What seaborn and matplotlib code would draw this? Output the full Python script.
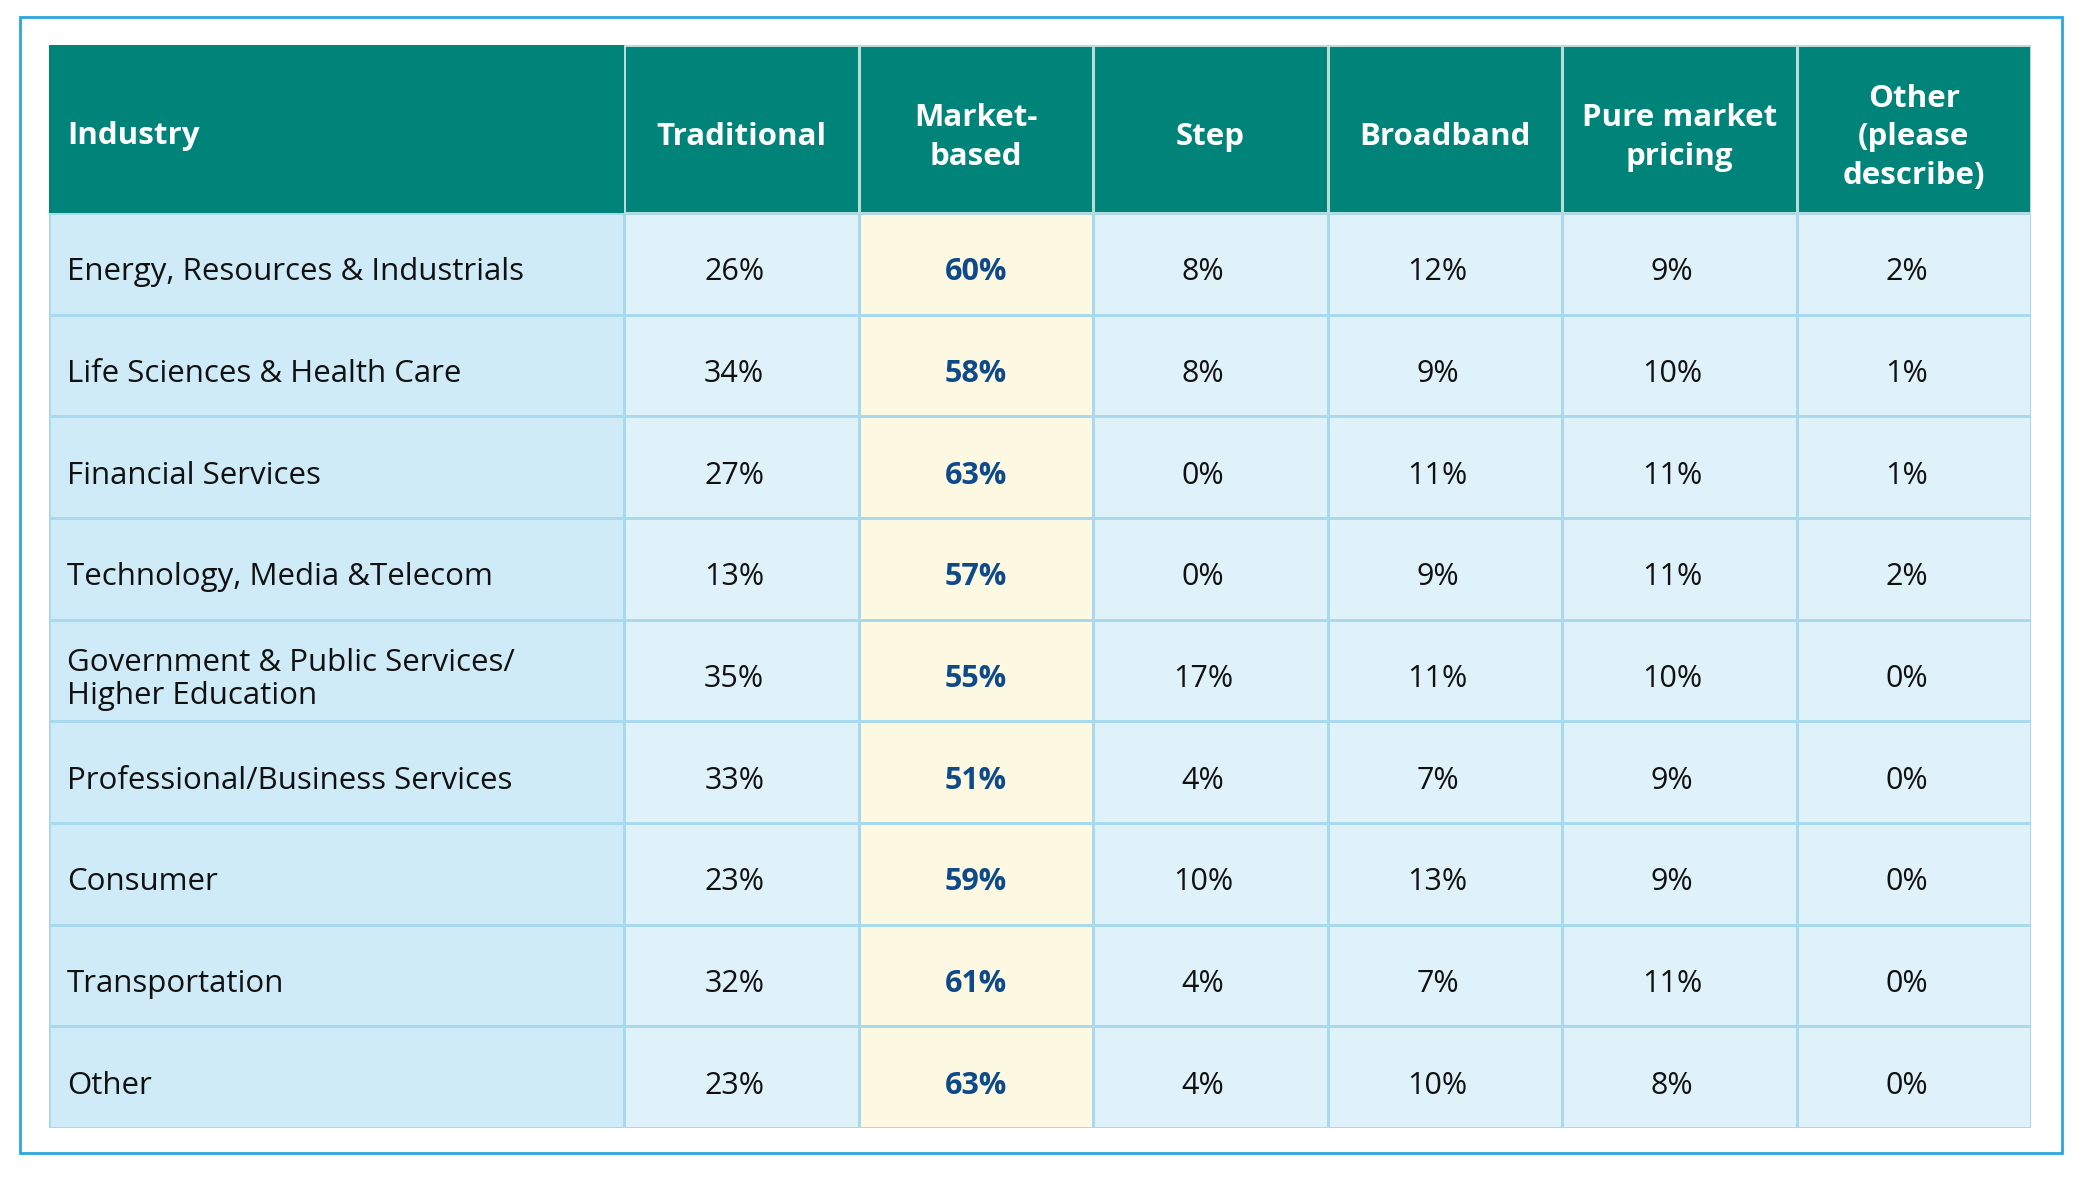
import numpy as np
import matplotlib
matplotlib.use("Agg")
import matplotlib.pyplot as plt
from matplotlib.colors import ListedColormap
from matplotlib.patches import Rectangle
import seaborn as sns

# ---------------- data ----------------
industries = [
    "Energy, Resources & Industrials",
    "Life Sciences & Health Care",
    "Financial Services",
    "Technology, Media &Telecom",
    "Government & Public Services/\nHigher Education",
    "Professional/Business Services",
    "Consumer",
    "Transportation",
    "Other",
]
columns = ["Traditional", "Market-\nbased", "Step", "Broadband",
           "Pure market\npricing", "Other\n(please\ndescribe)"]
first_header = "Industry"

traditional = [26, 34, 27, 13, 35, 33, 23, 32, 23]
market_based = [60, 58, 63, 57, 55, 51, 59, 61, 63]
step = [8, 8, 0, 0, 17, 4, 10, 4, 4]
broadband = [12, 9, 11, 9, 11, 7, 13, 7, 10]
pure_market = [9, 10, 11, 11, 10, 9, 9, 11, 8]
other_desc = [2, 1, 1, 2, 0, 0, 0, 0, 0]
highlight_col = 1  # Market-based

# ---------------- style ----------------
sns.set_theme(style="white")
plt.rcParams["font.family"] = ["Open Sans", "DejaVu Sans"]

C_IND = "#cfebf7"
C_CELL = "#dff2fa"
C_MKT = "#fdf8e2"
C_HEAD = "#00847a"
C_GRID = "#a9d9ef"
C_BOLD = "#0e4a8a"
C_FRAME = "#2ba6df"
cmap = ListedColormap([C_IND, C_CELL, C_MKT, C_HEAD])

W, H = 2083, 1177
fig = plt.figure(figsize=(W / 100, H / 100), dpi=100)
fig.patch.set_facecolor("white")


def place(x0, y0, x1, y1):
    return fig.add_axes([x0 / W, 1 - y1 / H, (x1 - x0) / W, (y1 - y0) / H])


X0, XS, X1 = 49, 624, 2031
Y0, YH, Y1 = 45, 213, 1128

values = np.array([traditional, market_based, step, broadband,
                   pure_market, other_desc]).T
n_rows, n_cols = values.shape

FS_LAB = 22.5
FS_NUM = 22
FS_HEAD = 22.5
DY = 0.05  # small downward nudge inside rows

# header - industry
ax = place(X0, Y0, XS, YH)
sns.heatmap(np.array([[3]]), ax=ax, cmap=cmap, vmin=-0.5, vmax=3.5, cbar=False,
            xticklabels=False, yticklabels=False, linewidths=0)
ax.text(18 / (XS - X0), 0.52, first_header, ha="left", va="center_baseline",
        color="white", fontsize=FS_HEAD, fontweight="bold")

# header - value columns
ax = place(XS, Y0, X1, YH)
sns.heatmap(np.full((1, n_cols), 3), ax=ax, cmap=cmap, vmin=-0.5, vmax=3.5,
            cbar=False, xticklabels=False, yticklabels=False,
            linewidths=1.0, linecolor="#b9dcd8")
for j, c in enumerate(columns):
    ax.text(j + 0.5, 0.55, c, ha="center", va="center", color="white",
            fontsize=FS_HEAD, fontweight="bold", linespacing=1.36)

# body - industry column
ax = place(X0, YH, XS, Y1)
sns.heatmap(np.zeros((n_rows, 1)), ax=ax, cmap=cmap, vmin=-0.5, vmax=3.5,
            cbar=False, xticklabels=False, yticklabels=False,
            linewidths=1.0, linecolor=C_GRID)
for i, lab in enumerate(industries):
    if "\n" in lab:
        ax.text(18 / (XS - X0), i + 0.5 + DY + 0.04, lab, ha="left",
                va="center", color="#111111", fontsize=FS_LAB,
                linespacing=1.15)
    else:
        ax.text(18 / (XS - X0), i + 0.5 + DY, lab, ha="left",
                va="center_baseline", color="#111111", fontsize=FS_LAB)

# body - values
codes = np.ones((n_rows, n_cols))
codes[:, highlight_col] = 2
ax = place(XS, YH, X1, Y1)
sns.heatmap(codes, ax=ax, cmap=cmap, vmin=-0.5, vmax=3.5, cbar=False,
            xticklabels=False, yticklabels=False, linewidths=1.0,
            linecolor=C_GRID)
for i in range(n_rows):
    for j in range(n_cols):
        if j == highlight_col:
            ax.text(j + 0.5, i + 0.5 + DY, f"{values[i, j]}%", ha="center",
                    va="center_baseline", color=C_BOLD, fontsize=FS_NUM,
                    fontweight="bold")
        else:
            ax.text(j + 0.47, i + 0.5 + DY, f"{values[i, j]}%", ha="center",
                    va="center_baseline", color="#111111", fontsize=FS_NUM)

# outer frame
fig.add_artist(Rectangle((20 / W, 1 - 1153 / H), (2062 - 20) / W,
                         (1153 - 17) / H, transform=fig.transFigure,
                         fill=False, edgecolor=C_FRAME, linewidth=2))

fig.savefig("out.png", dpi=100, facecolor="white")
